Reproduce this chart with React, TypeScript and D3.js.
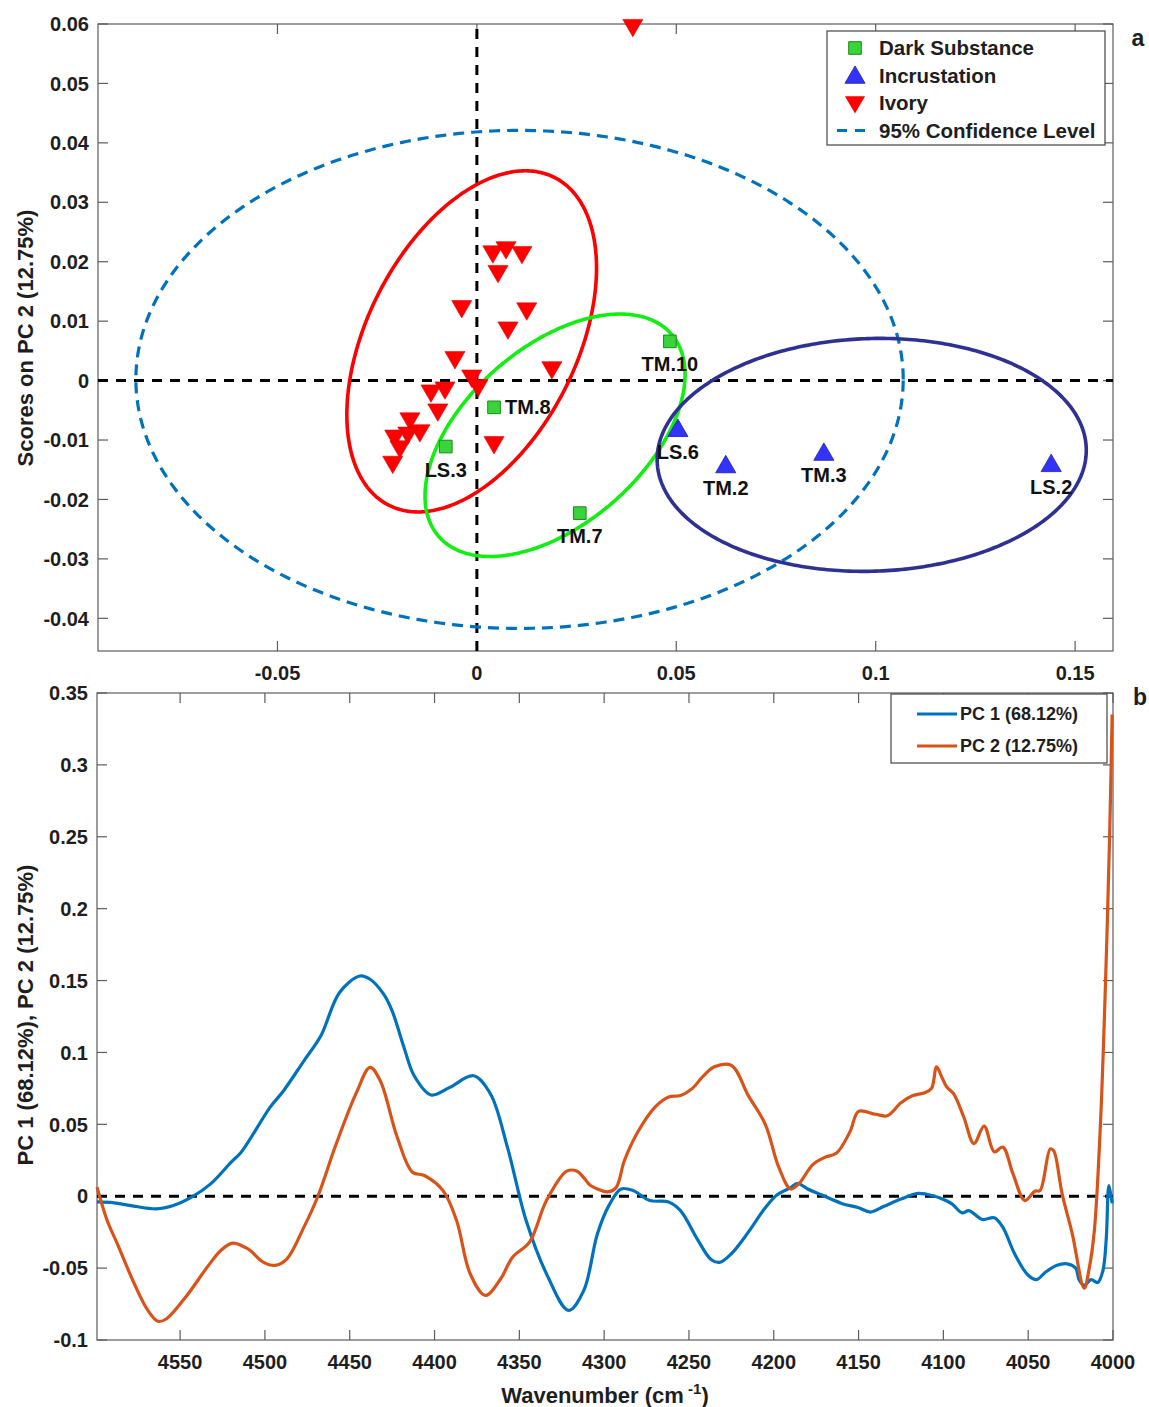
import React, { useRef, useEffect } from "react";
import * as d3 from "d3";

// ---- panel a: PCA scores ----
const darkSubstance = [
  { name: "TM.10", x: 0.0484, y: 0.0066 },
  { name: "TM.8", x: 0.0043, y: -0.0045 },
  { name: "LS.3", x: -0.0078, y: -0.0111 },
  { name: "TM.7", x: 0.0258, y: -0.0223 },
];

const incrustation = [
  { name: "LS.6", x: 0.0504, y: -0.0081 },
  { name: "TM.2", x: 0.0624, y: -0.0142 },
  { name: "TM.3", x: 0.087, y: -0.0121 },
  { name: "LS.2", x: 0.144, y: -0.014 },
];

const ivory = [
  [0.004, 0.0217], [0.0073, 0.0224], [0.0113, 0.0216], [0.0053, 0.0184],
  [-0.0038, 0.0125], [0.0125, 0.0121], [0.0078, 0.0089], [-0.0055, 0.0039],
  [0.0188, 0.0022], [-0.0013, 0.0008], [0.0003, -0.0008], [-0.008, -0.0012],
  [-0.0115, -0.0017], [-0.0098, -0.0049], [-0.0168, -0.0064], [-0.0143, -0.0084],
  [-0.0173, -0.0088], [-0.0206, -0.0093], [-0.0193, -0.0111], [-0.0211, -0.0137],
  [0.0043, -0.0104], [0.0391, 0.0598],
];

// group ellipses: centre, x/y half-extent, correlation
const groupEllipses = [
  { group: "Ivory", color: "#ff0000", cx: -0.0013, cy: 0.0066, sx: 0.0313, sy: 0.0287, rho: 0.43 },
  { group: "Dark Substance", color: "#11ee11", cx: 0.0196, cy: -0.0092, sx: 0.0326, sy: 0.0204, rho: 0.5 },
  { group: "Incrustation", color: "#2e3192", cx: 0.099, cy: -0.0125, sx: 0.0538, sy: 0.0196, rho: 0.04 },
];
const confidenceEllipse = { cx: 0.0107, cy: 0.0002, sx: 0.0962, sy: 0.0419, rho: 0 };

const scoreXTicks = [-0.05, 0, 0.05, 0.1, 0.15];
const scoreYTicks = [-0.04, -0.03, -0.02, -0.01, 0, 0.01, 0.02, 0.03, 0.04, 0.05, 0.06];

// ---- panel b: loadings ----
const pc1 = [
  [4599, -0.004], [4589, -0.0046], [4579, -0.0065], [4564, -0.0088], [4554, -0.0065],
  [4544, -0.0012], [4532, 0.0086], [4520, 0.0236], [4514, 0.0306], [4497, 0.0618],
  [4489, 0.0734], [4477, 0.0942], [4467, 0.1116], [4456, 0.1417], [4444, 0.1532],
  [4438, 0.1509], [4430, 0.1405], [4425, 0.1289], [4418, 0.1035], [4412, 0.0838],
  [4402, 0.0704], [4391, 0.0757], [4377, 0.0838], [4367, 0.0711], [4357, 0.034],
  [4346, -0.0169], [4334, -0.0539], [4321, -0.0794], [4312, -0.0655], [4304, -0.0262],
  [4297, -0.006], [4290, 0.005], [4283, 0.004], [4273, -0.003], [4262, -0.004],
  [4255, -0.01], [4245, -0.03], [4237, -0.044], [4232, -0.046], [4225, -0.04],
  [4215, -0.025], [4205, -0.008], [4198, 0.001], [4190, 0.006], [4186, 0.009],
  [4180, 0.005], [4172, 0.001], [4160, -0.005], [4150, -0.008], [4143, -0.011],
  [4135, -0.007], [4125, -0.002], [4115, 0.002], [4105, 0.0], [4102.5, -0.001],
  [4095, -0.0053], [4089, -0.0116], [4085, -0.01], [4077, -0.0162], [4070, -0.015],
  [4065, -0.0215], [4058, -0.04], [4050, -0.055], [4045, -0.058], [4040, -0.053],
  [4033, -0.048], [4027, -0.047], [4022, -0.05], [4020, -0.058], [4017, -0.062],
  [4013, -0.058], [4009, -0.06], [4006, -0.052], [4004, -0.03], [4002.4, 0.0074],
  [4000.5, -0.005],
];

const pc2 = [
  [4599, 0.0063], [4593, -0.0169], [4587, -0.0331], [4577, -0.0609], [4569, -0.0794],
  [4563, -0.087], [4558, -0.0852], [4546, -0.069], [4534, -0.0493], [4526, -0.0377],
  [4519, -0.0326], [4510, -0.0366], [4501, -0.0458], [4494, -0.0481], [4487, -0.0435],
  [4477, -0.0215], [4469, -0.0007], [4458, 0.0363], [4446, 0.0722], [4438, 0.0896],
  [4432, 0.0803], [4422, 0.041], [4413, 0.0167], [4406, 0.0144], [4395, 0.0039],
  [4387, -0.0169], [4379, -0.0539], [4370, -0.069], [4361, -0.0574], [4354, -0.0424],
  [4344, -0.0319], [4334, -0.003], [4322, 0.0174], [4316, 0.0174], [4308, 0.0074],
  [4304, 0.0051], [4298, 0.003], [4293, 0.006], [4288, 0.025], [4280, 0.045],
  [4270, 0.062], [4262, 0.069], [4255, 0.07], [4248, 0.075], [4242, 0.083],
  [4235, 0.09], [4225, 0.091], [4215, 0.07], [4205, 0.05], [4197, 0.02],
  [4190, 0.005], [4185, 0.009], [4177, 0.022], [4170, 0.027], [4163, 0.03],
  [4155, 0.045], [4150, 0.059], [4140, 0.057], [4133, 0.056], [4125, 0.065],
  [4118, 0.07], [4111, 0.072], [4107, 0.075], [4104, 0.09], [4101, 0.083],
  [4098, 0.076], [4094, 0.0713], [4088, 0.0551], [4082, 0.0366], [4076, 0.0488],
  [4070, 0.0308], [4065, 0.0342], [4059, 0.0157], [4052, -0.003], [4046, 0.0035],
  [4043, 0.004], [4037, 0.0329], [4035, 0.0317], [4030, 0.0016], [4024, -0.0262],
  [4017, -0.064], [4014, -0.05], [4011, -0.024], [4007.4, 0.0502], [4004.4, 0.149],
  [4002, 0.25], [4000.5, 0.335],
];

const waveTicks = [4550, 4500, 4450, 4400, 4350, 4300, 4250, 4200, 4150, 4100, 4050, 4000];
const loadingYTicks = [-0.1, -0.05, 0, 0.05, 0.1, 0.15, 0.2, 0.25, 0.3, 0.35];

const FONT = "'Liberation Sans', Arial, sans-serif";
const TEXT = "#1e1e1e";
const AXIS = "#5c5c5c";
const fmt = (v) => String(+v.toFixed(3));

const ellipsePoints = (e) =>
  d3.range(0, 361).map((i) => {
    const t = (i / 360) * 2 * Math.PI;
    return [
      e.cx + e.sx * Math.cos(t),
      e.cy + e.sy * (e.rho * Math.cos(t) + Math.sqrt(1 - e.rho * e.rho) * Math.sin(t)),
    ];
  });

function drawAxes(g, x, y, xTicks, yTicks, labelY) {
  const [l, r] = x.range();
  const [b, t] = y.range();
  const tick = 10;
  const ax = g.append("g").attr("stroke", AXIS).attr("stroke-width", 1.2);
  ax.append("rect")
    .attr("x", l).attr("y", t).attr("width", r - l).attr("height", b - t)
    .attr("fill", "none");
  xTicks.forEach((v) => {
    ax.append("line").attr("x1", x(v)).attr("x2", x(v)).attr("y1", b).attr("y2", b - tick);
    ax.append("line").attr("x1", x(v)).attr("x2", x(v)).attr("y1", t).attr("y2", t + tick);
  });
  yTicks.forEach((v) => {
    ax.append("line").attr("x1", l).attr("x2", l + tick).attr("y1", y(v)).attr("y2", y(v));
    ax.append("line").attr("x1", r).attr("x2", r - tick).attr("y1", y(v)).attr("y2", y(v));
  });
  const lab = g.append("g")
    .attr("font-family", FONT).attr("font-weight", "bold").attr("font-size", 20).attr("fill", TEXT);
  xTicks.forEach((v) => {
    lab.append("text").attr("x", x(v)).attr("y", labelY).attr("text-anchor", "middle").text(fmt(v));
  });
  yTicks.forEach((v) => {
    lab.append("text").attr("x", l - 9).attr("y", y(v)).attr("dy", "0.36em")
      .attr("text-anchor", "end").text(fmt(v));
  });
}

const App = () => {
  const svgRef = useRef(null);

  useEffect(() => {
    const svg = d3.select(svgRef.current);
    svg.selectAll("*").remove();

    // ================= panel a =================
    const xa = d3.scaleLinear().domain([-0.095, 0.1595]).range([98, 1113]);
    const ya = d3.scaleLinear().domain([-0.0455, 0.06]).range([651, 24]);
    const ga = svg.append("g");
    drawAxes(ga, xa, ya, scoreXTicks, scoreYTicks, 680);

    const ellLine = d3.line().x((d) => xa(d[0])).y((d) => ya(d[1]));

    // zero lines
    const zero = ga.append("g").attr("stroke", "#000").attr("stroke-width", 3).attr("stroke-dasharray", "10,8");
    zero.append("line").attr("x1", xa.range()[0]).attr("x2", xa.range()[1]).attr("y1", ya(0)).attr("y2", ya(0));
    zero.append("line").attr("x1", xa(0)).attr("x2", xa(0)).attr("y1", ya.range()[0]).attr("y2", ya.range()[1]);

    ga.append("path")
      .attr("d", ellLine(ellipsePoints(confidenceEllipse)))
      .attr("fill", "none").attr("stroke", "#0072bd").attr("stroke-width", 3.2)
      .attr("stroke-dasharray", "11,7");

    groupEllipses.forEach((e) => {
      ga.append("path")
        .attr("d", ellLine(ellipsePoints(e)))
        .attr("fill", "none").attr("stroke", e.color).attr("stroke-width", 3.6);
    });

    const tri = d3.symbol().type(d3.symbolTriangle).size(175);
    const sq = d3.symbol().type(d3.symbolSquare).size(160);

    ga.append("g").selectAll("path").data(ivory).enter().append("path")
      .attr("d", tri)
      .attr("transform", (d) => `translate(${xa(d[0])},${ya(d[1])}) rotate(180)`)
      .attr("fill", "#ff0000").attr("stroke", "#e00000").attr("stroke-width", 0.6);

    ga.append("g").selectAll("path").data(darkSubstance).enter().append("path")
      .attr("d", sq)
      .attr("transform", (d) => `translate(${xa(d.x)},${ya(d.y)})`)
      .attr("fill", "#3ad33a").attr("stroke", "#1c8a1c").attr("stroke-width", 1);

    ga.append("g").selectAll("path").data(incrustation).enter().append("path")
      .attr("d", tri)
      .attr("transform", (d) => `translate(${xa(d.x)},${ya(d.y) + 2})`)
      .attr("fill", "#3333ff").attr("stroke", "#1b1bb0").attr("stroke-width", 0.8);

    const labels = ga.append("g")
      .attr("font-family", FONT).attr("font-weight", "bold").attr("font-size", 20).attr("fill", "#111");
    [...darkSubstance, ...incrustation].forEach((d) => {
      const right = d.name === "TM.8";
      labels.append("text")
        .attr("x", xa(d.x) + (right ? 11 : 0))
        .attr("y", ya(d.y) + (right ? 7 : 30))
        .attr("text-anchor", right ? "start" : "middle")
        .text(d.name);
    });

    // legend a
    const la = ga.append("g").attr("font-family", FONT).attr("font-weight", "bold").attr("font-size", 20.5).attr("fill", TEXT);
    la.append("rect").attr("x", 827).attr("y", 31).attr("width", 278).attr("height", 114)
      .attr("fill", "#fff").attr("stroke", "#444").attr("stroke-width", 1.2);
    const legendItems = ["Dark Substance", "Incrustation", "Ivory", "95% Confidence Level"];
    legendItems.forEach((name, i) => {
      const cy = 48 + i * 27.5;
      const mx = 855;
      if (i === 0) la.append("path").attr("d", sq).attr("transform", `translate(${mx},${cy})`)
        .attr("fill", "#3ad33a").attr("stroke", "#1c8a1c");
      if (i === 1) la.append("path").attr("d", tri).attr("transform", `translate(${mx},${cy + 2})`)
        .attr("fill", "#3333ff").attr("stroke", "#1b1bb0").attr("stroke-width", 0.8);
      if (i === 2) la.append("path").attr("d", tri).attr("transform", `translate(${mx},${cy - 1}) rotate(180)`)
        .attr("fill", "#ff0000");
      if (i === 3) la.append("line").attr("x1", 837).attr("x2", 869).attr("y1", cy).attr("y2", cy)
        .attr("stroke", "#0072bd").attr("stroke-width", 3.2).attr("stroke-dasharray", "10,8");
      la.append("text").attr("x", 879).attr("y", cy).attr("dy", "0.36em").text(name);
    });

    ga.append("text")
      .attr("transform", `translate(25,338) rotate(-90)`)
      .attr("text-anchor", "middle").attr("dy", "0.36em")
      .attr("font-family", FONT).attr("font-weight", "bold").attr("font-size", 22).attr("fill", TEXT)
      .text("Scores on PC 2 (12.75%)");

    ga.append("text").attr("x", 1138).attr("y", 46).attr("text-anchor", "middle")
      .attr("font-family", FONT).attr("font-weight", "bold").attr("font-size", 23).attr("fill", TEXT).text("a");

    // ================= panel b =================
    const xb = d3.scaleLinear().domain([4599, 4000]).range([97, 1113]);
    const yb = d3.scaleLinear().domain([-0.1, 0.35]).range([1340, 693]);
    const gb = svg.append("g");
    drawAxes(gb, xb, yb, waveTicks, loadingYTicks, 1369);

    gb.append("line").attr("x1", xb.range()[0]).attr("x2", xb.range()[1])
      .attr("y1", yb(0)).attr("y2", yb(0))
      .attr("stroke", "#000").attr("stroke-width", 3).attr("stroke-dasharray", "10,8");

    const curve = d3.line().x((d) => xb(d[0])).y((d) => yb(d[1])).curve(d3.curveCatmullRom.alpha(0.5));
    gb.append("path").attr("d", curve(pc1)).attr("fill", "none")
      .attr("stroke", "#0072bd").attr("stroke-width", 3.2).attr("stroke-linejoin", "round");

    // legend b (drawn before PC2 so the rising end stays visible)
    const lb = gb.append("g").attr("font-family", FONT).attr("font-weight", "bold").attr("font-size", 18).attr("fill", TEXT);
    lb.append("rect").attr("x", 891).attr("y", 694).attr("width", 216).attr("height", 69)
      .attr("fill", "#fff").attr("stroke", "#444").attr("stroke-width", 1.2);
    [
      { name: "PC 1 (68.12%)", color: "#0072bd" },
      { name: "PC 2 (12.75%)", color: "#d95319" },
    ].forEach((d, i) => {
      const cy = 714 + i * 32;
      lb.append("line").attr("x1", 917).attr("x2", 957).attr("y1", cy).attr("y2", cy)
        .attr("stroke", d.color).attr("stroke-width", 3.2);
      lb.append("text").attr("x", 960).attr("y", cy).attr("dy", "0.36em").text(d.name);
    });

    gb.append("path").attr("d", curve(pc2)).attr("fill", "none")
      .attr("stroke", "#d95319").attr("stroke-width", 3.2).attr("stroke-linejoin", "round");

    gb.append("text")
      .attr("transform", `translate(25,1015) rotate(-90)`)
      .attr("text-anchor", "middle").attr("dy", "0.36em")
      .attr("font-family", FONT).attr("font-weight", "bold").attr("font-size", 22).attr("fill", TEXT)
      .text("PC 1 (68.12%), PC 2 (12.75%)");

    const xl = gb.append("text").attr("x", 605).attr("y", 1403).attr("text-anchor", "middle")
      .attr("font-family", FONT).attr("font-weight", "bold").attr("font-size", 22).attr("fill", TEXT);
    xl.append("tspan").text("Wavenumber (cm");
    xl.append("tspan").attr("dy", -9).attr("font-size", 15).text(" -1");
    xl.append("tspan").attr("dy", 9).text(")");

    gb.append("text").attr("x", 1140).attr("y", 705).attr("text-anchor", "middle")
      .attr("font-family", FONT).attr("font-weight", "bold").attr("font-size", 23).attr("fill", TEXT).text("b");
  }, []);

  return (
    <svg
      ref={svgRef}
      width={1149}
      height={1407}
      style={{ position: "absolute", left: 0, top: 0, background: "#fff" }}
    />
  );
};

export default App;
